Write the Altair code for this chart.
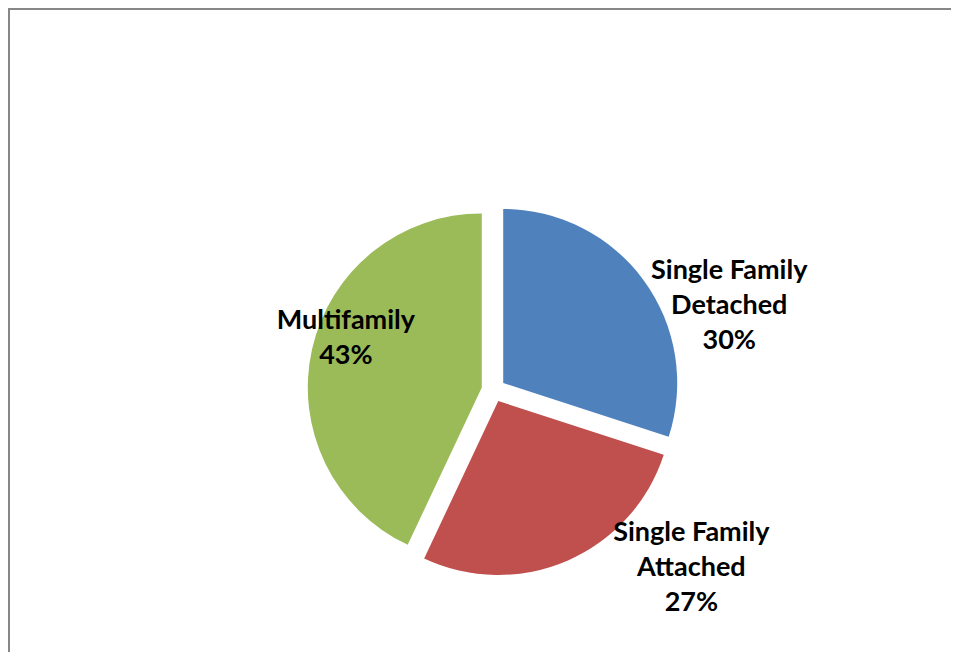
import math
import altair as alt
import pandas as pd

# ---- data ----
categories = ["Single Family Detached", "Single Family Attached", "Multifamily"]
values = [30, 27, 43]
label_text = ["Single Family\nDetached\n30%", "Single Family\nAttached\n27%", "Multifamily\n43%"]
colors = ["#4F81BD", "#C0504D", "#9BBB59"]

# ---- styles / layout ----
W, H = 943, 644
BASE_DX, BASE_DY = 14, 60          # pie centre relative to view centre
EXPLODE = 12                        # explode distance (px)
RADIUS = 174
LINE_H = 35
# label placement (polar, relative to pie centre): angle in degrees, radius in px
label_polar = [(69.9, 251), (131.7, 265), (289.9, 157)]

total = sum(values)
starts, ends = [], []
acc = 0
for v in values:
    starts.append(acc)
    acc += v
    ends.append(acc)

df = pd.DataFrame({
    "category": categories,
    "value": values,
    "start": starts,
    "end": ends,
    "label": label_text,
})

theta_scale = alt.Scale(domain=[0, total], range=[0, 2 * math.pi])

layers = []
for i, cat in enumerate(categories):
    mid = (starts[i] + ends[i]) / 2 / total * 2 * math.pi
    ox = BASE_DX + EXPLODE * math.sin(mid)
    oy = BASE_DY - EXPLODE * math.cos(mid)
    arc = (
        alt.Chart(df)
        .transform_filter(alt.datum.category == cat)
        .mark_arc(radius=RADIUS, color=colors[i], xOffset=ox, yOffset=oy)
        .encode(
            theta=alt.Theta("start:Q", scale=theta_scale, stack=False),
            theta2="end:Q",
        )
    )
    layers.append(arc)

for i, cat in enumerate(categories):
    ang, r = label_polar[i]
    a = math.radians(ang)
    n_lines = label_text[i].count("\n") + 1
    tx = BASE_DX + r * math.sin(a)
    ty = BASE_DY - r * math.cos(a) - (n_lines - 1) * LINE_H / 2 + 2
    txt = (
        alt.Chart(df)
        .transform_filter(alt.datum.category == cat)
        .mark_text(
            font="Lato", fontSize=27, fontWeight="bold", color="#000000",
            lineBreak="\n", lineHeight=LINE_H, align="center", baseline="middle",
            xOffset=tx, yOffset=ty,
        )
        .encode(text="label:N")
    )
    layers.append(txt)

# frame (top and left edges only, as in the original crop)
frame = pd.DataFrame({"fx": [1, 1, W], "fy": [H, 1, 1], "o": [0, 1, 2]})
border = alt.Chart(frame).mark_line(color="#878787", strokeWidth=2).encode(
    x=alt.X("fx:Q", scale=None, axis=None),
    y=alt.Y("fy:Q", scale=None, axis=None),
    order="o:Q",
)
layers.append(border)

chart = (
    alt.layer(*layers)
    .properties(width=W, height=H, padding=0, autosize=alt.AutoSizeParams(type="none"))
    .configure_view(stroke="transparent", strokeWidth=0)
)

chart.save("out.html", embed_options={"renderer": "svg", "actions": False})
